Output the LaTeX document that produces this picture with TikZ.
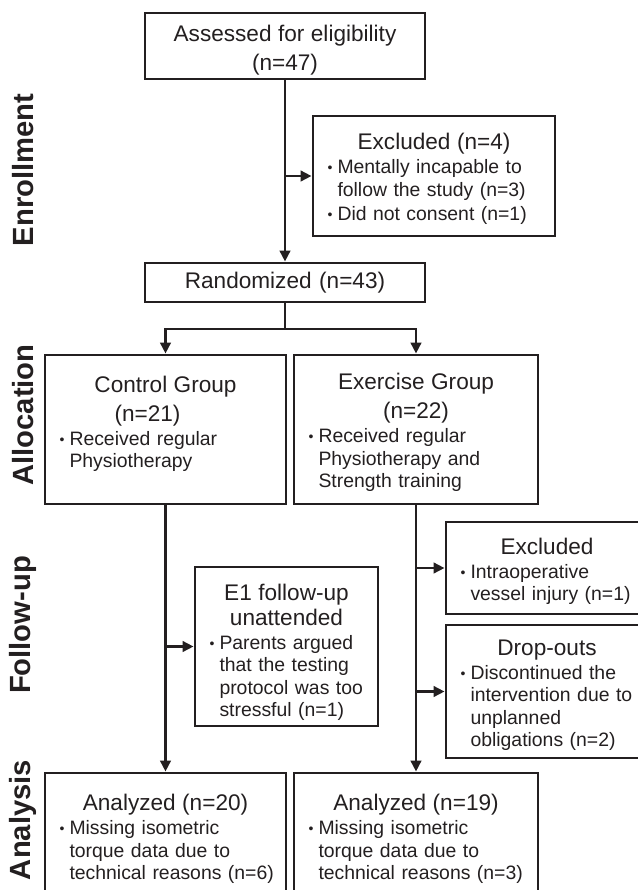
\documentclass[tikz,border=0pt]{standalone}
\usepackage{fontspec}
\setmainfont{Liberation Sans}
\usetikzlibrary{arrows.meta}
\definecolor{ink}{HTML}{231F20}
% heading lines of a box, then one bullet with its lines
\newcommand{\hd}[2][12.7pt]{{\centering\fontsize{11.3}{14.5}\selectfont\rule{0pt}{#1}#2\par}\vspace{0.8pt}}
\newcommand{\bitem}[1]{\par\noindent\hspace*{2.3pt}\makebox[4.95pt][l]{\raisebox{0.5pt}{\fontsize{7}{7}\selectfont\textbullet}}\begin{tabular}[t]{@{}l@{}}#1\end{tabular}\par}
\begin{document}
\begin{tikzpicture}[x=0.5pt, y=-0.5pt, line width=1.4pt, color=ink,
    box/.style 2 args={draw, inner xsep=5pt, inner ysep=0pt, text width=#1, minimum height=#2, font=\fontsize{9.7}{11.2}\selectfont},
    side/.style={rotate=90, font=\fontsize{14.6}{17}\selectfont\bfseries},
    arr/.style={-{Triangle[length=5.5pt,width=5.2pt]}}]
    \useasboundingbox (0,0) rectangle (638,890);

    % phases
    \node [side] (enr) at (23,170) {Enrollment};
    \node [side] (alloc) at (23,415) {Allocation};
    \node [side] (follow) at (23,625) {Follow-up};
    \node [side] (anal) at (23,820) {Analysis};

    % enrollment
    \node [box={130pt}{33pt}] (assess) at (285,46) {\hd{Assessed for eligibility\\(n=47)}};
    \node [box={111pt}{60pt}] (excl) at (434,176) {\hd{Excluded (n=4)}\bitem{Mentally incapable to\\follow the study (n=3)}\bitem{Did not consent (n=1)}};
    \node [box={130pt}{19.5pt}, align=center, font=\fontsize{11.3}{14.5}\selectfont] (rand) at (285,282.5) {Randomized (n=43)};

    % allocation
    \node [box={110.5pt}{74.5pt}] (ctl) at (165.5,429.5) {\hd{Control Group\\\hspace*{-18pt}(n=21)}\bitem{Received regular\\Physiotherapy}\vspace*{9pt}};
    \node [box={112pt}{74.5pt}] (exer) at (416,429.5) {\hd{Exercise Group\\(n=22)}\bitem{Received regular\\Physiotherapy and\\Strength training}};

    % follow-up
    \node [box={81.5pt}{79.5pt}] (fu1) at (286.5,646.5) {\hd[15.2pt]{\fontsize{11.3}{12.5}\selectfont E1 follow-up\\unattended}\bitem{Parents argued\\that the testing\\protocol was too\\stressful (n=1)}};
    \node [box={91pt}{46pt}] (exclfu) at (547,568) {\hd{Excluded}\bitem{Intraoperative\\vessel injury (n=1)}};
    \node [box={91pt}{66.5pt}] (drop) at (547,691.5) {\hd{Drop-outs}\bitem{Discontinued the\\intervention due to\\unplanned\\obligations (n=2)}};

    % analysis
    \node [box={110.5pt}{63pt}] (anactl) at (165.5,836) {\hd{Analyzed (n=20)}\bitem{Missing isometric\\torque data due to\\technical reasons (n=6)}};
    \node [box={112pt}{63pt}] (anaex) at (416,836) {\hd{Analyzed (n=19)}\bitem{Missing isometric\\torque data due to\\technical reasons (n=3)}};

    % connectors
    \coordinate (split) at (285,329);
    \draw [arr] (assess.south) -- (rand.north);
    \draw [arr] (assess.south |- excl.west) -- (excl.west);
    \draw (rand.south) -- (split);
    \draw [arr] (split) -| (ctl.north);
    \draw [arr] (split) -| (exer.north);
    \draw [arr] (ctl.south) -- (anactl.north);
    \draw [arr] (ctl.south |- fu1.west) -- (fu1.west);
    \draw [arr] (exer.south) -- (anaex.north);
    \draw [arr] (exer.south |- exclfu.west) -- (exclfu.west);
    \draw [arr] (exer.south |- drop.west) -- (drop.west);
\end{tikzpicture}
\end{document}
